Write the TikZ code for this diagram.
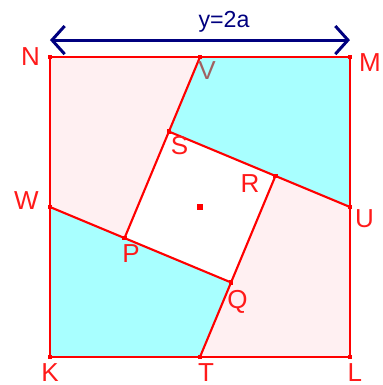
\documentclass[tikz,border=0pt]{standalone}
\usepackage{fontspec}
\setmainfont{Liberation Sans}
\usepackage{tikz}
\usetikzlibrary{positioning,
                calc,
                arrows.meta}
\definecolor{pinkfill}{HTML}{FFF0F2}
\definecolor{cyanfill}{HTML}{A8FFFF}
\definecolor{edgered}{HTML}{FF0000}
\definecolor{labelred}{HTML}{FF1A1A}
\definecolor{mutedred}{HTML}{A06060}
\definecolor{arrownavy}{HTML}{00007F}

\begin{document}
\begin{tikzpicture}[x=1.5cm,y=1.5cm]

\tikzset{
edge/.style={
draw=edgered,
line width=0.6pt
},
dot/.style={
fill=edgered,
inner sep=0pt,
minimum size=1.2pt
},
ptlabel/.style={
text=labelred,
font=\fontsize{7.4}{9}\selectfont
}
}

\useasboundingbox (-1.3333,-1.1867) rectangle (1.22,1.38);

%----------------------------------
% POINTS
%----------------------------------

\coordinate (N) at (-1,1);
\coordinate (M) at (1,1);
\coordinate (L) at (1,-1);
\coordinate (K) at (-1,-1);
\coordinate (V) at (0,1);
\coordinate (U) at (1,0);
\coordinate (T) at (0,-1);
\coordinate (W) at (-1,0);
\coordinate (P) at (-0.503,-0.207);
\coordinate (Q) at (0.207,-0.503);
\coordinate (R) at (0.503,0.207);
\coordinate (S) at (-0.207,0.503);
\coordinate (O) at (0,0);

%----------------------------------
% REGIONS
%----------------------------------

\fill[pinkfill] (N) -- (M) -- (L) -- (K) -- cycle;
\fill[cyanfill] (V) -- (M) -- (U) -- (R) -- (S) -- cycle;
\fill[cyanfill] (W) -- (P) -- (Q) -- (T) -- (K) -- cycle;
\fill[white] (P) -- (Q) -- (R) -- (S) -- cycle;

%----------------------------------
% LINES
%----------------------------------

\draw[edge] (N) -- (M) -- (L) -- (K) -- cycle;
\draw[edge] (V) -- (P);
\draw[edge] (W) -- (Q);
\draw[edge] (T) -- (R);
\draw[edge] (U) -- (S);

\foreach \p in {N,M,L,K,V,U,T,W,P,Q,R,S}
  \node[dot] at (\p) {};
\node[dot,minimum size=1.7pt] (centre) at (O) {};

%----------------------------------
% WIDTH ARROW
%----------------------------------

\coordinate (arrowL) at (-1,1.113);
\coordinate (arrowR) at (1,1.113);
\draw[arrownavy,line width=0.85pt,
      {Straight Barb[length=3.6pt,width=8pt]}-{Straight Barb[length=3.6pt,width=8pt]}]
  (arrowL) -- (arrowR);
\node[text=arrownavy,font=\fontsize{6.6}{8}\selectfont] (width) at (0.16,1.233) {y=2a};

%----------------------------------
% LABELS
%----------------------------------

\node[ptlabel] (labN) at (-1.13,1.0) {N};
\node[ptlabel] (labM) at (1.133,0.96) {M};
\node[ptlabel,text=mutedred] (labV) at (0.047,0.913) {V};
\node[ptlabel] (labS) at (-0.137,0.41) {S};
\node[ptlabel] (labW) at (-1.157,0.04) {W};
\node[ptlabel] (labR) at (0.333,0.153) {R};
\node[ptlabel] (labU) at (1.097,-0.08) {U};
\node[ptlabel] (labP) at (-0.46,-0.313) {P};
\node[ptlabel] (labQ) at (0.25,-0.633) {Q};
\node[ptlabel] (labK) at (-1,-1.107) {K};
\node[ptlabel] (labT) at (0.04,-1.107) {T};
\node[ptlabel] (labL) at (1.033,-1.107) {L};

\end{tikzpicture}
\end{document}
